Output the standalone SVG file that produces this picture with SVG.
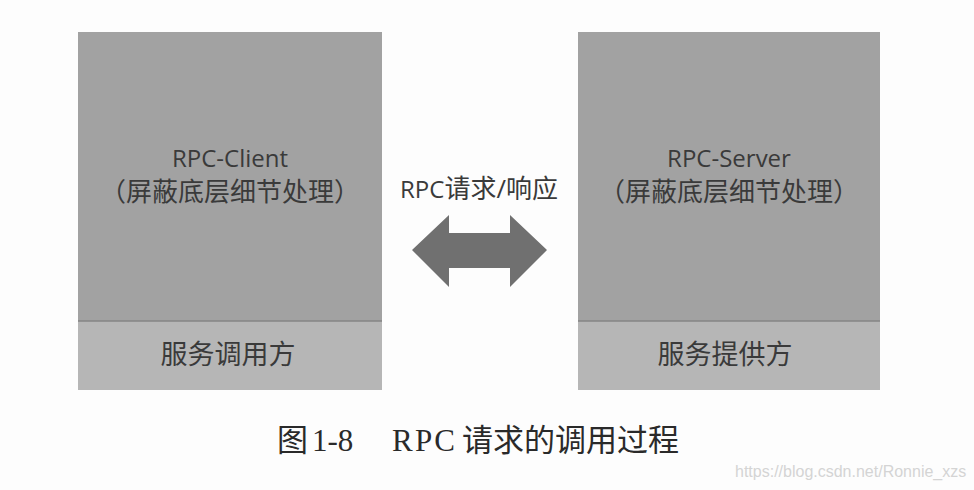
<svg xmlns="http://www.w3.org/2000/svg" width="974" height="490" viewBox="0 0 974 490">
<style>
.top{fill:#a2a2a2}
.bot{fill:#b6b6b6}
.div{stroke:#858585;stroke-width:1.5}
.lbl{font-family:"Open Sans","Noto Sans CJK SC",sans-serif;font-size:24px;fill:#3a3a3a;text-anchor:middle}
.cjk{font-size:26px}
.svc{font-size:27px}
.cap{font-family:"Liberation Serif","Noto Sans CJK SC",serif;font-size:31px;fill:#2a2a2a}
.wm{font-family:"Liberation Sans",sans-serif;font-size:16px;fill:#d4d4d4}
</style>
<rect width="974" height="490" fill="#fdfdfd"/>
<g id="client">
<rect class="top" x="78" y="32" width="304" height="289"/>
<rect class="bot" x="78" y="321" width="304" height="69"/>
<line class="div" x1="78" y1="321" x2="382" y2="321"/>
<text class="lbl" x="230" y="167">RPC-Client</text>
<text class="lbl cjk" x="230" y="201">（屏蔽底层细节处理）</text>
<text class="lbl svc" x="228" y="364">服务调用方</text>
</g>
<g id="server">
<rect class="top" x="578" y="32" width="302" height="289"/>
<rect class="bot" x="578" y="321" width="302" height="69"/>
<line class="div" x1="578" y1="321" x2="880" y2="321"/>
<text class="lbl" x="729" y="167">RPC-Server</text>
<text class="lbl cjk" x="729" y="201">（屏蔽底层细节处理）</text>
<text class="lbl svc" x="725" y="364">服务提供方</text>
</g>
<g id="connectors">
<polygon points="412,250 449,215 449,233 510,233 510,215 547,250 510,287 510,268 449,268 449,287" fill="#707070"/>
<text class="lbl" x="479" y="198">RPC<tspan class="cjk">请求/响应</tspan></text>
</g>
<text class="cap" y="451"><tspan x="277">图</tspan><tspan x="312">1-8</tspan><tspan x="392" textLength="63">RPC</tspan><tspan x="462">请求的调用过程</tspan></text>
<text class="wm" x="735" y="477">https://blog.csdn.net/Ronnie_xzs</text>
</svg>
